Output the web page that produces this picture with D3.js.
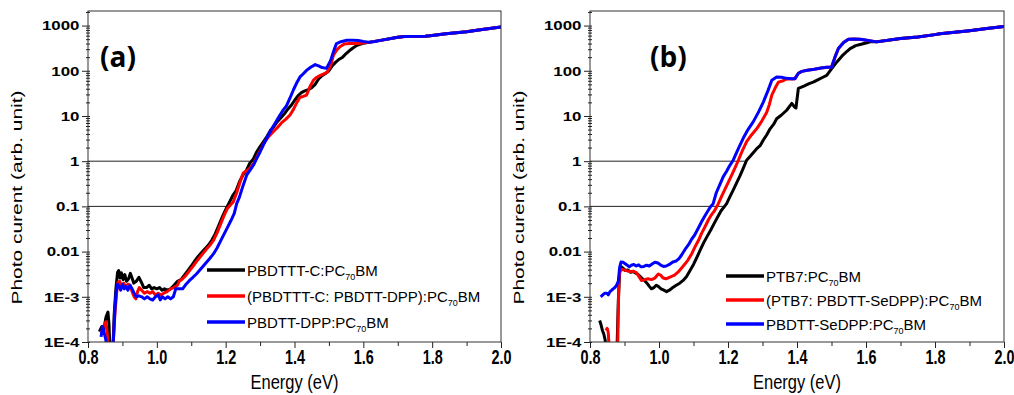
<!DOCTYPE html>
<html><head><meta charset="utf-8">
<script src="https://cdn.jsdelivr.net/npm/d3@7"></script>
<style>body{margin:0;background:#fff} svg{display:block}</style>
</head><body><svg id="c" width="1014" height="395"></svg>
<script>
// ---------- data ----------
const xTickValues = [0.8, 1.0, 1.2, 1.4, 1.6, 1.8, 2.0];
const xTickLabels = ["0.8", "1.0", "1.2", "1.4", "1.6", "1.8", "2.0"];
const xMinorTicks = [0.9, 1.1, 1.3, 1.5, 1.7, 1.9];
const yTickValues = [1e-4, 1e-3, 0.01, 0.1, 1, 10, 100, 1000];
const yTickLabels = ["1E-4", "1E-3", "0.01", "0.1", "1", "10", "100", "1000"];
const xTitle = "Energy (eV)";
const yTitle = "Photo curent (arb. unit)";
const panelLabels = ["(a)", "(b)"];
const seriesColors = ["#000000", "#ff0000", "#0000ff"];
const legendA = [["PBDTTT-C:PC", "70", "BM"], ["(PBDTTT-C: PBDTT-DPP):PC", "70", "BM"], ["PBDTT-DPP:PC", "70", "BM"]];
const legendB = [["PTB7:PC", "70", "BM"], ["(PTB7: PBDTT-SeDPP):PC", "70", "BM"], ["PBDTT-SeDPP:PC", "70", "BM"]];
// reference horizontal lines: [value, energy where the line stops]
const refLinesA = [[1, 1.27], [0.1, 1.215]];
const refLinesB = [[1, 1.254], [0.1, 1.19]];

// panel (a)
const aBlack = [[0.833,1.7e-4],[0.840,2.2e-4],[0.846,1.9e-4],[0.852,3.5e-4],[0.858,4.6e-4],[0.861,2.5e-4],[0.864,6e-5],[0.872,6e-5],[0.876,4e-4],[0.881,1.5e-3],[0.886,3.5e-3],[0.889,3.8e-3],[0.893,2.6e-3],[0.897,3.4e-3],[0.902,2.4e-3],[0.907,3.1e-3],[0.912,2.2e-3],[0.918,2.5e-3],[0.923,3.3e-3],[0.928,2.6e-3],[0.933,2.0e-3],[0.940,2.2e-3],[0.948,2.7e-3],[0.955,2.1e-3],[0.962,1.6e-3],[0.970,1.6e-3],[0.978,1.8e-3],[0.985,1.5e-3],[0.992,1.6e-3],[1.000,1.5e-3],[1.008,1.6e-3],[1.015,1.4e-3],[1.022,1.5e-3],[1.030,1.4e-3],[1.040,1.5e-3],[1.050,1.8e-3],[1.060,2.2e-3],[1.070,2.4e-3],[1.080,3.0e-3],[1.090,3.8e-3],[1.100,4.8e-3],[1.110,6.2e-3],[1.120,7.8e-3],[1.130,9.5e-3],[1.140,0.0115],[1.150,0.014],[1.160,0.018],[1.170,0.025],[1.180,0.038],[1.190,0.058],[1.200,0.085],[1.210,0.12],[1.220,0.17],[1.230,0.22],[1.240,0.35],[1.250,0.49],[1.260,0.62],[1.270,0.9],[1.280,1.1],[1.290,1.6],[1.300,2.1],[1.310,2.7],[1.320,3.5],[1.330,4.8],[1.340,5.8],[1.350,7.5],[1.360,9.0],[1.370,11],[1.380,14],[1.390,17],[1.400,22],[1.410,28],[1.420,33],[1.430,36],[1.440,38],[1.450,42],[1.460,50],[1.470,66],[1.480,78],[1.490,87],[1.500,100],[1.510,130],[1.520,155],[1.530,180],[1.540,200],[1.550,240],[1.560,280],[1.570,320],[1.580,360],[1.590,385],[1.600,405],[1.620,430],[1.650,470],[1.700,550],[1.720,575],[1.780,578],[1.800,600],[1.840,660],[1.900,730],[1.940,810],[2.000,930]];
const aRed = [[0.838,1.6e-4],[0.845,2.2e-4],[0.852,2.8e-4],[0.856,1.5e-4],[0.860,6e-5],[0.872,6e-5],[0.878,4e-4],[0.883,1.2e-3],[0.887,2.1e-3],[0.892,2.2e-3],[0.898,1.7e-3],[0.904,2.0e-3],[0.910,1.6e-3],[0.916,1.9e-3],[0.922,1.8e-3],[0.928,1.3e-3],[0.934,1.0e-3],[0.939,9e-4],[0.944,1.3e-3],[0.949,1.6e-3],[0.956,1.4e-3],[0.964,1.2e-3],[0.972,1.3e-3],[0.980,1.2e-3],[0.988,1.3e-3],[0.996,1.1e-3],[1.004,1.2e-3],[1.012,1.1e-3],[1.020,1.2e-3],[1.030,1.3e-3],[1.040,1.5e-3],[1.050,1.6e-3],[1.060,1.8e-3],[1.065,2.2e-3],[1.075,2.5e-3],[1.085,3.0e-3],[1.095,3.8e-3],[1.105,4.7e-3],[1.115,6.0e-3],[1.125,7.5e-3],[1.135,9.3e-3],[1.145,0.0115],[1.155,0.014],[1.165,0.018],[1.175,0.026],[1.185,0.040],[1.195,0.062],[1.205,0.09],[1.215,0.11],[1.222,0.125],[1.232,0.2],[1.242,0.35],[1.251,0.55],[1.262,0.62],[1.272,0.72],[1.282,0.9],[1.292,1.3],[1.302,1.8],[1.315,2.8],[1.325,3.5],[1.338,4.5],[1.350,5.5],[1.362,7],[1.375,8.5],[1.387,10.5],[1.397,14],[1.407,20],[1.416,26],[1.425,27],[1.435,29],[1.445,45],[1.455,62],[1.465,72],[1.475,79],[1.485,85],[1.495,92],[1.505,130],[1.513,220],[1.523,290],[1.532,340],[1.545,390],[1.560,400],[1.580,400],[1.600,410],[1.620,430],[1.650,470],[1.700,550],[1.720,575],[1.780,578],[1.800,600],[1.840,660],[1.900,730],[1.940,810],[2.000,930]];
const aBlue = [[0.838,1.3e-4],[0.842,2.2e-4],[0.847,1.6e-4],[0.852,1.1e-4],[0.855,6e-5],[0.872,6e-5],[0.878,5e-4],[0.882,1.3e-3],[0.886,1.9e-3],[0.890,1.7e-3],[0.895,1.4e-3],[0.900,1.9e-3],[0.905,1.5e-3],[0.910,1.7e-3],[0.916,1.4e-3],[0.922,1.8e-3],[0.928,1.5e-3],[0.934,1.2e-3],[0.940,1.0e-3],[0.948,1.05e-3],[0.956,1.0e-3],[0.964,9e-4],[0.972,1.0e-3],[0.980,9e-4],[0.988,8.5e-4],[0.996,1.0e-3],[1.004,1.1e-3],[1.010,8.5e-4],[1.016,1.0e-3],[1.024,9e-4],[1.032,1.0e-3],[1.040,9e-4],[1.048,1.0e-3],[1.055,1.5e-3],[1.065,1.5e-3],[1.075,1.5e-3],[1.085,1.9e-3],[1.095,2.3e-3],[1.105,2.7e-3],[1.115,3.2e-3],[1.125,3.9e-3],[1.135,4.8e-3],[1.145,5.9e-3],[1.155,7.2e-3],[1.165,9.0e-3],[1.175,0.012],[1.185,0.017],[1.195,0.024],[1.205,0.034],[1.215,0.048],[1.225,0.07],[1.232,0.115],[1.240,0.16],[1.250,0.28],[1.261,0.49],[1.272,0.65],[1.282,0.85],[1.290,1.14],[1.300,1.6],[1.312,2.5],[1.323,3.6],[1.334,5.2],[1.345,7.2],[1.356,10],[1.367,13.5],[1.377,17],[1.387,25],[1.397,38],[1.407,55],[1.416,73],[1.425,85],[1.435,102],[1.447,120],[1.460,137],[1.470,128],[1.480,118],[1.493,113],[1.505,170],[1.515,290],[1.522,400],[1.535,440],[1.552,473],[1.570,475],[1.585,470],[1.600,445],[1.615,430],[1.630,440],[1.650,470],[1.700,550],[1.720,575],[1.780,578],[1.800,600],[1.840,660],[1.900,730],[1.940,810],[2.000,930]];

// panel (b)
const bBlack = [[0.828,3.0e-4],[0.832,2.4e-4],[0.836,1.8e-4],[0.840,1.5e-4],[0.844,1.1e-4],[0.848,6e-5],[0.878,6e-5],[0.882,8e-4],[0.886,3.5e-3],[0.891,4.6e-3],[0.897,4.2e-3],[0.903,3.8e-3],[0.910,3.9e-3],[0.918,3.5e-3],[0.926,3.6e-3],[0.934,3.3e-3],[0.942,3.0e-3],[0.950,2.6e-3],[0.958,2.3e-3],[0.965,2.0e-3],[0.972,1.7e-3],[0.978,1.5e-3],[0.985,1.6e-3],[0.992,1.8e-3],[0.998,1.7e-3],[1.006,1.5e-3],[1.014,1.4e-3],[1.022,1.3e-3],[1.030,1.4e-3],[1.040,1.6e-3],[1.050,1.8e-3],[1.060,2.0e-3],[1.070,2.3e-3],[1.080,2.8e-3],[1.090,3.8e-3],[1.100,5.2e-3],[1.110,7.5e-3],[1.120,0.011],[1.130,0.016],[1.140,0.022],[1.150,0.030],[1.160,0.042],[1.170,0.058],[1.180,0.080],[1.190,0.10],[1.196,0.115],[1.205,0.16],[1.215,0.23],[1.225,0.33],[1.235,0.48],[1.245,0.72],[1.254,1.05],[1.265,1.3],[1.275,1.6],[1.285,1.95],[1.293,2.2],[1.302,2.9],[1.312,3.8],[1.322,5.2],[1.332,6.5],[1.341,8.7],[1.355,10.5],[1.370,13.4],[1.385,19],[1.392,16],[1.397,15],[1.404,41],[1.420,46],[1.435,52],[1.447,56],[1.460,63],[1.475,72],[1.486,79],[1.500,110],[1.515,155],[1.530,210],[1.545,270],[1.554,310],[1.570,360],[1.583,380],[1.600,410],[1.612,436],[1.631,440],[1.660,470],[1.700,520],[1.750,560],[1.800,630],[1.814,660],[1.850,700],[1.900,770],[1.950,860],[2.000,960]];
const bRed = [[0.846,1.8e-4],[0.850,2.0e-4],[0.853,1.6e-4],[0.856,6e-5],[0.880,6e-5],[0.882,5e-4],[0.884,2.5e-3],[0.887,3.9e-3],[0.895,4.0e-3],[0.905,3.8e-3],[0.915,3.6e-3],[0.925,3.7e-3],[0.935,3.4e-3],[0.942,2.8e-3],[0.949,2.3e-3],[0.958,2.4e-3],[0.968,2.5e-3],[0.978,2.4e-3],[0.988,2.6e-3],[0.998,3.2e-3],[1.005,3.0e-3],[1.012,2.6e-3],[1.020,2.5e-3],[1.030,2.7e-3],[1.045,3.0e-3],[1.055,3.5e-3],[1.065,4.3e-3],[1.075,5.3e-3],[1.084,6.5e-3],[1.095,9.0e-3],[1.105,0.013],[1.115,0.018],[1.123,0.025],[1.133,0.035],[1.143,0.050],[1.152,0.065],[1.161,0.08],[1.172,0.115],[1.182,0.17],[1.190,0.23],[1.200,0.33],[1.210,0.48],[1.220,0.7],[1.230,1.05],[1.240,1.6],[1.254,2.7],[1.268,3.8],[1.283,5.2],[1.297,7.5],[1.312,12],[1.320,18],[1.327,29],[1.337,42],[1.346,56],[1.360,60],[1.370,66],[1.385,66],[1.394,67],[1.404,88],[1.414,97],[1.430,103],[1.450,108],[1.470,115],[1.486,120],[1.500,120],[1.510,200],[1.520,310],[1.535,420],[1.549,500],[1.565,505],[1.583,500],[1.602,473],[1.631,436],[1.660,470],[1.700,520],[1.750,560],[1.800,630],[1.814,660],[1.850,700],[1.900,770],[1.950,860],[2.000,960]];
const bBlue = [[0.831,1.0e-3],[0.837,1.1e-3],[0.843,1.2e-3],[0.849,1.2e-3],[0.853,1.1e-3],[0.858,1.3e-3],[0.863,1.4e-3],[0.867,1.5e-3],[0.872,1.6e-3],[0.877,1.8e-3],[0.882,2.2e-3],[0.886,4.5e-3],[0.890,5.9e-3],[0.896,5.8e-3],[0.902,5.4e-3],[0.908,5.0e-3],[0.914,4.6e-3],[0.920,5.0e-3],[0.927,5.2e-3],[0.934,4.8e-3],[0.941,5.1e-3],[0.948,4.6e-3],[0.956,4.7e-3],[0.964,5.0e-3],[0.972,4.8e-3],[0.980,5.3e-3],[0.988,5.8e-3],[0.997,5.6e-3],[1.005,5.0e-3],[1.013,4.7e-3],[1.021,4.8e-3],[1.030,5.2e-3],[1.040,5.9e-3],[1.050,6.2e-3],[1.058,7.0e-3],[1.065,8.3e-3],[1.075,0.011],[1.085,0.014],[1.095,0.019],[1.103,0.023],[1.113,0.032],[1.123,0.045],[1.132,0.060],[1.142,0.08],[1.150,0.10],[1.157,0.115],[1.166,0.2],[1.176,0.3],[1.186,0.45],[1.196,0.6],[1.205,0.8],[1.215,1.05],[1.230,1.9],[1.244,3.2],[1.258,5],[1.273,7.4],[1.288,12],[1.302,20],[1.315,35],[1.327,62],[1.341,73],[1.355,72],[1.370,68],[1.385,67],[1.394,67],[1.404,88],[1.414,97],[1.430,103],[1.450,108],[1.470,115],[1.486,120],[1.500,120],[1.510,200],[1.520,310],[1.535,420],[1.549,500],[1.565,505],[1.583,500],[1.602,473],[1.631,436],[1.660,470],[1.700,520],[1.750,560],[1.800,630],[1.814,660],[1.850,700],[1.900,770],[1.950,860],[2.000,960]];

// ---------- drawing ----------
const svg = d3.select("#c");
const TOP = 11, BOTTOM = 342;
const SANS = "'Liberation Sans',Arial,sans-serif";

function drawPanel(o) {
  const x = d3.scaleLinear().domain([0.8, 2.0]).range([o.left, o.right]);
  const y = d3.scaleLog().domain([1e-4, 2100]).range([BOTTOM, TOP]);
  const g = svg.append("g");
  const clipId = "clip" + o.id;
  svg.append("clipPath").attr("id", clipId).append("rect")
    .attr("x", o.left).attr("y", TOP).attr("width", o.right - o.left).attr("height", BOTTOM - TOP);

  // reference lines
  g.selectAll(".ref").data(o.refLines).join("line")
    .attr("x1", x(0.8)).attr("x2", d => x(d[1]))
    .attr("y1", d => y(d[0])).attr("y2", d => y(d[0]))
    .attr("stroke", "#222").attr("stroke-width", 1);

  // curves
  const line = d3.line().x(d => x(d[0])).y(d => y(d[1]));
  const cg = g.append("g").attr("clip-path", `url(#${clipId})`);
  o.series.forEach((s, i) => {
    cg.append("path").attr("d", line(s)).attr("fill", "none")
      .attr("stroke", seriesColors[i]).attr("stroke-width", 3)
      .attr("stroke-linejoin", "round").attr("stroke-linecap", "butt");
  });

  // frame
  g.append("rect").attr("x", o.left).attr("y", TOP)
    .attr("width", o.right - o.left).attr("height", BOTTOM - TOP)
    .attr("fill", "none").attr("stroke", "#333").attr("stroke-width", 1);

  // x axis
  const xa = g.append("g").attr("transform", `translate(0,${BOTTOM})`)
    .call(d3.axisBottom(x).tickValues(xTickValues).tickFormat((d, i) => xTickLabels[i]).tickSize(6).tickPadding(2));
  xa.select(".domain").remove();
  xa.selectAll("text").attr("transform", "scale(0.74,1)")
    .attr("font-family", SANS)
    .attr("font-weight", "bold").attr("font-size", 19.5).attr("fill", "#000");
  const xm = g.append("g").attr("transform", `translate(0,${BOTTOM})`)
    .call(d3.axisBottom(x).tickValues(xMinorTicks).tickFormat("").tickSize(4));
  xm.select(".domain").remove();

  // y axis
  const ya = g.append("g").attr("transform", `translate(${o.left + 2},0)`)
    .call(d3.axisLeft(y).tickValues(yTickValues).tickFormat((d, i) => yTickLabels[i]).tickSize(8));
  ya.select(".domain").remove();
  ya.selectAll("text").attr("x", 0).attr("transform", "translate(-10.5,0) scale(1.25,1)")
    .attr("font-family", SANS)
    .attr("font-weight", "bold").attr("font-size", 13.5).attr("fill", "#000");
  const minors = [];
  for (let e = -4; e <= 3; e++) for (let m = 2; m <= 9; m++) { const v = m * Math.pow(10, e); if (v < 2100) minors.push(v); }
  const ym = g.append("g").attr("transform", `translate(${o.left + 2},0)`)
    .call(d3.axisLeft(y).tickValues(minors).tickFormat("").tickSize(4));
  ym.select(".domain").remove();
  g.selectAll(".tick line").attr("stroke", "#222");

  // titles
  g.append("text").attr("x", (o.left + o.right) / 2).attr("y", 389)
    .attr("text-anchor", "middle").attr("font-family", SANS)
    .attr("font-size", 20).attr("fill", "#000")
    .attr("textLength", 88).attr("lengthAdjust", "spacingAndGlyphs").text(xTitle);
  g.append("text").attr("transform", `translate(${o.left - 66},197.5) rotate(-90)`)
    .attr("text-anchor", "middle").attr("font-family", SANS)
    .attr("font-size", 15.5).attr("fill", "#000")
    .attr("textLength", 214).attr("lengthAdjust", "spacingAndGlyphs").text(yTitle);

  // panel label
  g.append("text").attr("x", o.labelX).attr("y", 66.5)
    .attr("font-family", "'Open Sans',sans-serif").attr("font-weight", "bold")
    .attr("font-size", 28).attr("fill", "#000").text(o.label);

  // legend
  o.legend.forEach((L, i) => {
    const ly = o.legY[i];
    g.append("line").attr("x1", o.legX).attr("x2", o.legX + 38).attr("y1", ly).attr("y2", ly)
      .attr("stroke", seriesColors[i]).attr("stroke-width", 3.5);
    const t = g.append("text").attr("x", o.legX + 40).attr("y", ly + 6)
      .attr("font-family", SANS).attr("font-size", 15).attr("fill", "#000");
    t.append("tspan").text(L[0]);
    t.append("tspan").attr("font-size", 9).attr("dy", 4).text(L[1]);
    t.append("tspan").attr("dy", -4).text(L[2]);
  });
}

drawPanel({id: "a", left: 88, right: 501, series: [aBlack, aRed, aBlue], refLines: refLinesA,
  label: panelLabels[0], labelX: 100, legend: legendA, legX: 207, legY: [270, 296, 322]});
drawPanel({id: "b", left: 590, right: 1004, series: [bBlack, bRed, bBlue], refLines: refLinesB,
  label: panelLabels[1], labelX: 650, legend: legendB, legX: 726, legY: [276, 300, 324]});
</script>
</body></html>
